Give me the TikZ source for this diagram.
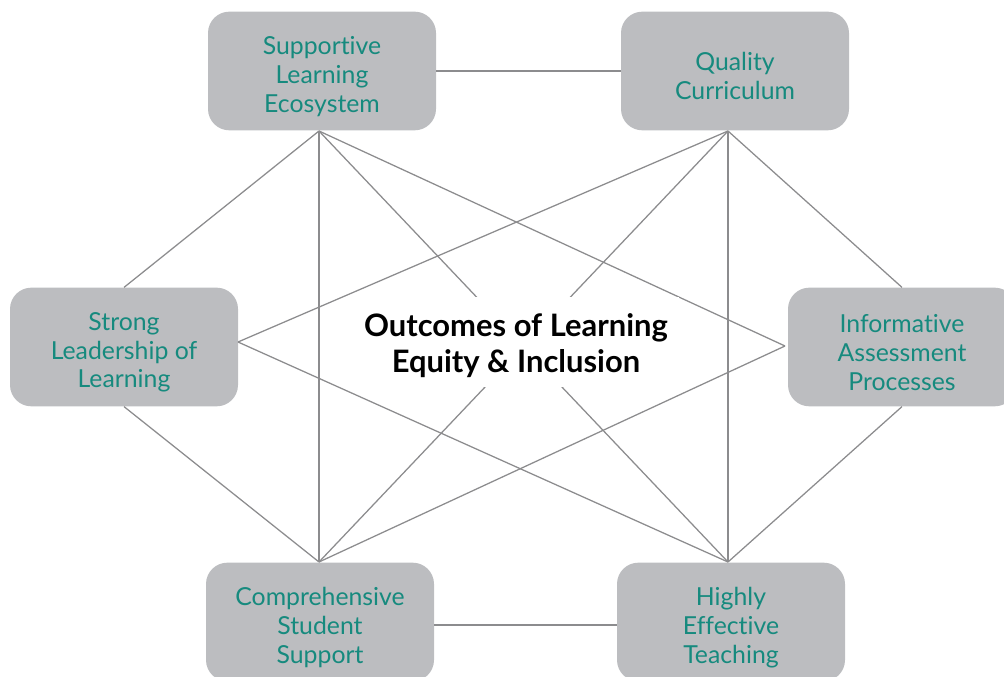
\documentclass[tikz,border=0pt]{standalone}
\usepackage{fontspec}
\setmainfont{Lato}[Ligatures={NoCommon,NoDiscretionary,NoRare}]
\begin{document}
\definecolor{boxgray}{HTML}{BCBDC0}
\definecolor{tealtext}{HTML}{168A7E}
\definecolor{linkgray}{HTML}{8C8C8E}
\begin{tikzpicture}[x=0.75pt,y=-0.75pt,
  pillar/.style={fill=boxgray,rounded corners=16pt,minimum width=171pt,minimum height=89pt,
    inner sep=0pt},
  pillartext/.style={text=tealtext,align=center,inner sep=0pt,yshift=-4pt,
    font=\fontsize{18.6}{21.6}\selectfont},
  link/.style={draw=linkgray,line width=0.95pt},
  hub/.style={fill=white,inner sep=0pt,minimum width=244pt,minimum height=67pt},
  hubtext/.style={align=center,inner sep=0pt,yshift=-2.5pt,
    font=\fontsize{23.2}{27}\selectfont\bfseries}]
\useasboundingbox (0,0) rectangle (1004,677);
\clip (0,0) rectangle (1004,677);
% the six pillars
\node[pillar,label={[pillartext]center:{Supportive\\Learning\\Ecosystem}}] (sup)  at (322,71)  {};
\node[pillar,label={[pillartext]center:{Quality\\Curriculum}}] (qual) at (735,71)  {};
\node[pillar,label={[pillartext]center:{Strong\\Leadership of\\Learning}}] (str)  at (124,347) {};
\node[pillar,label={[pillartext]center:{Informative\\Assessment\\Processes}}] (inf)  at (902,347) {};
\node[pillar,label={[pillartext]center:{Comprehensive\\Student\\Support}}] (comp) at (320,622) {};
\node[pillar,label={[pillartext]center:{Highly\\Effective\\Teaching}}] (high) at (731,622) {};
% meeting points of the links on the box edges
\coordinate (supB)  at (319,131);
\coordinate (qualB) at (728,131);
\coordinate (strR)  at (238,342);
\coordinate (infL)  at (785,346);
\coordinate (compT) at (319,562);
\coordinate (highT) at (728,562);
% links
\draw[link] (sup.east |- 0,71) -- (qual.west |- 0,71);
\draw[link] (comp.east |- 0,625) -- (high.west |- 0,625);
\draw[link] (supB) -- (str.north);
\draw[link] (supB) -- (compT);
\draw[link] (supB) -- (highT);
\draw[link] (supB) -- (infL);
\draw[link] (qualB) -- (inf.north);
\draw[link] (qualB) -- (highT);
\draw[link] (qualB) -- (compT);
\draw[link] (qualB) -- (strR);
\draw[link] (strR) -- (highT);
\draw[link] (str.south) -- (compT);
\draw[link] (infL) -- (compT);
\draw[link] (inf.south) -- (highT);
% central outcome, masking the crossing links
\node[hub,label={[hubtext]center:{Outcomes of Learning\\Equity \& Inclusion}}] (hub) at (516,342) {};
\end{tikzpicture}
\end{document}
